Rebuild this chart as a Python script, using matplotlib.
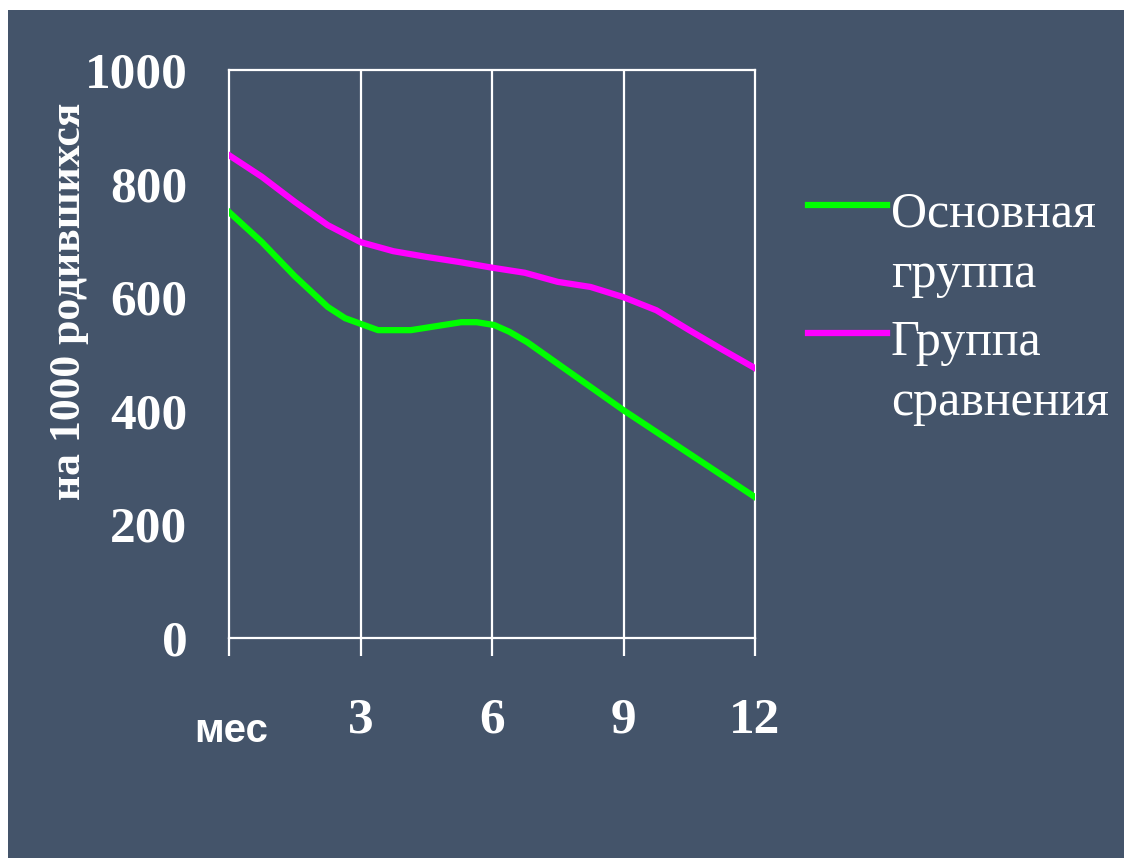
import matplotlib
matplotlib.use('Agg')
import matplotlib.pyplot as plt
from matplotlib.patches import Rectangle
from matplotlib.lines import Line2D

# months since birth and survivors per 1000 born
months_main = [0, 0.75, 1.5, 2.25, 2.65, 3.4, 4.15, 5.3, 5.65, 6.05, 6.4, 6.8, 9, 12]
main_group = [750, 697, 637, 583, 563, 542, 542, 556, 556, 551, 539, 521, 401, 248]

months_cmp = [0, 0.75, 1.5, 2.25, 3, 3.75, 4.5, 5.25, 6, 6.75, 7.5, 8.25, 9, 9.75, 10.5, 11.25, 12]
cmp_group = [850, 812, 768, 727, 697, 681, 671, 662, 652, 643, 627, 618, 600, 577, 542, 508, 475]

x_ticks = [0, 3, 6, 9, 12]
x_labels = ['', '3', '6', '9', '12']
y_ticks = [0, 200, 400, 600, 800, 1000]

bg = '#44546a'
W, H = 1124, 863

fig = plt.figure(figsize=(W / 100, H / 100), dpi=100, facecolor='white')
fig.patches.append(Rectangle((8 / W, 5 / H), 1 - 8 / W, 1 - 15 / H,
                             transform=fig.transFigure, facecolor=bg,
                             edgecolor='none', zorder=-10))

ax = fig.add_axes([229 / W, 225 / H, 526 / W, 568 / H])
ax.set_facecolor(bg)
ax.set_xlim(0, 12)
ax.set_ylim(0, 1000)

ax.plot(months_main, main_group, color='#00ff00', lw=4.5, solid_joinstyle='round', zorder=3)
ax.plot(months_cmp, cmp_group, color='#ff00ff', lw=4.5, solid_joinstyle='round', zorder=3)

for x in x_ticks[1:-1]:
    ax.axvline(x, color='white', lw=1.6, zorder=1)
for s in ax.spines.values():
    s.set_color('white')
    s.set_linewidth(1.6)

serif_bold = dict(family='Liberation Serif', weight='bold', color='white')
ax.set_xticks(x_ticks)
ax.set_xticklabels(x_labels, fontsize=37, **serif_bold)
ax.set_yticks(y_ticks)
ax.set_yticklabels([str(v) for v in y_ticks], fontsize=37, **serif_bold)
ax.tick_params(axis='x', direction='out', length=13, width=1.6, color='white', pad=30)
ax.tick_params(axis='y', length=0, pad=30)

fig.text(231 / W, 1 - 731 / H, 'мес', family='Liberation Sans', weight='bold',
         fontsize=29, color='white', ha='center', va='center')
fig.text(69 / W, 1 - 301 / H, 'на 1000 родившихся', rotation=90, fontsize=31.5,
         ha='center', va='center', **serif_bold)

# legend drawn by hand so the key sits on the first line of each label
for y_key, col, label in [(205, '#00ff00', 'Основная\nгруппа'),
                          (333, '#ff00ff', 'Группа\nсравнения')]:
    fig.lines.append(Line2D([808 / W, 887 / W], [1 - y_key / H] * 2,
                            transform=fig.transFigure, color=col, lw=4.5))
    fig.text(891 / W, 1 - (y_key - 14) / H, label, family='Liberation Serif',
             fontsize=36, color='white', ha='left', va='top', linespacing=1.4)

fig.savefig('out.png', dpi=100, facecolor='white')
